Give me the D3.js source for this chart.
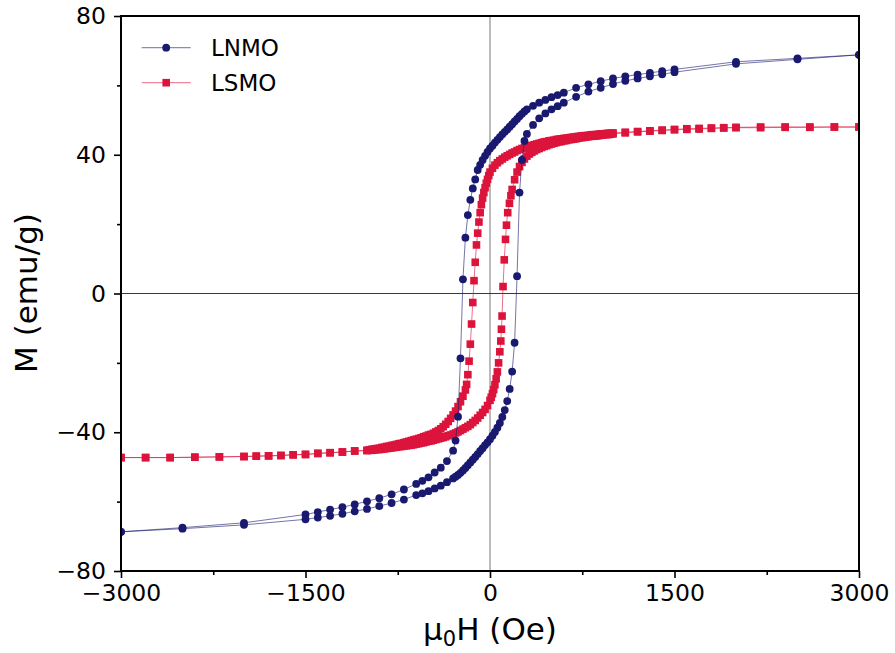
<!DOCTYPE html>
<html><head><meta charset="utf-8">
<script src="https://cdn.jsdelivr.net/npm/d3@7"></script>
<style>body{margin:0;background:#fff}svg{display:block}</style>
</head><body>
<svg id="chart" width="895" height="653"></svg>
<script>
// ---------- data ----------
const seriesNames = ["LNMO", "LSMO"];
const xMajorTicks = [-3000, -1500, 0, 1500, 3000];
const xMinorTicks = [-2250, -750, 750, 2250];
const yMajorTicks = [-80, -40, 0, 40, 80];
const yMinorTicks = [-60, -20, 20, 60];

// LNMO, field sweeping down (+3000 -> -3000)
const lnmoDownH = [3000,2500,2000,1500,1400,1300,1200,1100,1000,900,800,700,600,550,500,450,400,350,300,
  280,260,240,220,200,180,160,140,120,100,80,60,40,20,0,-20,-40,-60,-80,-100,
  -120,-140,-160,-180,-200,-220,-240,-260,-280,-300,-350,-400,-450,-500,-550,-600,
  -700,-800,-900,-1000,-1100,-1200,-1300,-1400,-1500,-2000,-2500,-3000];
const lnmoDownM = [68.8,67.8,66.8,64.6,64.1,63.6,63.1,62.6,62.0,61.2,60.3,59.3,57.9,57.2,56.6,55.8,55.0,54.1,53.1,
  52.5,51.8,51.1,50.3,49.6,48.8,48.1,47.3,46.6,45.9,45.1,44.3,43.5,42.6,41.8,40.8,39.7,38.5,37.1,35.6,
  32.9,30.3,27.0,22.6,16.1,4.1,-18.7,-35.5,-42.4,-45.3,-48.3,-50.2,-51.6,-53.0,-54.0,-54.9,
  -56.5,-57.9,-59.0,-59.9,-60.8,-61.6,-62.3,-63.0,-63.7,-66.1,-67.5,-68.7];
// LNMO, field sweeping up (-3000 -> +3000)
const lnmoUpH = [-3000,-2500,-2000,-1500,-1400,-1300,-1200,-1100,-1000,-900,-800,-700,-600,-550,-500,-450,-400,-350,-300,
  -280,-260,-240,-220,-200,-180,-160,-140,-120,-100,-80,-60,-40,-20,0,20,40,60,80,100,
  120,140,160,180,200,220,240,260,280,300,350,400,450,500,550,600,
  700,800,900,1000,1100,1200,1300,1400,1500,2000,2500,3000];
const lnmoUpM = [-68.7,-67.8,-66.7,-65.1,-64.6,-64.1,-63.5,-62.8,-62.1,-61.3,-60.4,-59.4,-58.1,-57.6,-57.0,-56.2,-55.4,-54.4,-53.3,
  -52.8,-52.3,-51.7,-51.0,-50.3,-49.5,-48.7,-47.9,-47.1,-46.3,-45.4,-44.6,-43.7,-42.9,-42.0,-41.0,-39.9,-38.7,-37.3,-35.6,
  -33.6,-31.0,-27.5,-22.5,-14.2,5.0,29.1,38.5,44.0,46.0,48.6,50.5,51.9,53.1,54.0,55.0,
  56.7,58.2,59.3,60.4,61.3,62.0,62.6,63.2,63.8,66.2,67.5,68.8];

// LSMO, field sweeping down
const lsmoDownH = [3000,2800,2600,2400,2200,2000,
  1900,1800,1700,1600,1500,1400,1300,1200,1100,1000,
  980,960,940,920,900,880,860,840,820,800,780,760,740,720,700,680,660,640,620,600,
  580,560,540,520,500,480,460,440,420,400,380,360,340,320,300,280,260,240,220,200,
  180,160,140,120,100,80,60,40,20,
  0,-10,-20,-30,-40,-50,-60,-70,-80,-90,-100,-110,-120,-130,-140,-150,-160,-170,-180,-190,-200,
  -220,-240,-260,-280,-300,-320,-340,-360,-380,-400,-420,-440,-460,-480,-500,-520,-540,-560,-580,-600,
  -620,-640,-660,-680,-700,-720,-740,-760,-780,-800,-820,-840,-860,-880,-900,-920,-940,-960,-980,-1000,
  -1100,-1200,-1300,-1400,-1500,-1600,-1700,-1800,-1900,-2000,
  -2200,-2400,-2600,-2800,-3000];
const lsmoDownM = [48.0,48.0,48.0,48.0,48.0,47.9,
  47.8,47.7,47.6,47.5,47.3,47.1,46.9,46.7,46.5,46.3,
  46.2,46.2,46.1,46.0,46.0,45.9,45.8,45.8,45.7,45.6,45.5,45.5,45.4,45.3,45.2,45.1,45.0,44.9,44.8,44.7,
  44.6,44.5,44.4,44.2,44.1,44.0,43.8,43.7,43.5,43.3,43.1,42.9,42.7,42.5,42.3,42.0,41.8,41.5,41.2,40.8,
  40.5,40.1,39.7,39.3,38.8,38.3,37.7,37.0,36.1,
  35.0,34.0,32.9,31.8,30.5,29.1,27.5,25.6,23.3,20.6,17.4,14.0,9.0,3.7,-2.6,-8.8,-14.6,-19.5,-23.4,-26.2,-27.8,
  -29.6,-31.2,-32.6,-33.9,-35.0,-36.0,-36.9,-37.7,-38.4,-39.0,-39.5,-39.9,-40.3,-40.6,-40.8,-41.1,-41.3,-41.6,-41.8,-42.0,
  -42.2,-42.4,-42.6,-42.8,-43.0,-43.2,-43.3,-43.5,-43.7,-43.8,-44.0,-44.1,-44.3,-44.4,-44.6,-44.7,-44.8,-44.9,-45.1,-45.2,
  -45.4,-45.7,-45.9,-46.1,-46.4,-46.5,-46.7,-46.8,-46.9,-47.0,
  -47.1,-47.2,-47.3,-47.3,-47.3];
// LSMO, field sweeping up
const lsmoUpH = [-3000,-2800,-2600,-2400,-2200,-2000,
  -1900,-1800,-1700,-1600,-1500,-1400,-1300,-1200,-1100,
  -1000,-980,-960,-940,-920,-900,-880,-860,-840,-820,-800,-780,-760,-740,-720,-700,-680,-660,-640,-620,-600,
  -580,-560,-540,-520,-500,-480,-460,-440,-420,-400,-380,-360,-340,-320,-300,-280,-260,-240,-220,-200,
  -180,-160,-140,-120,-100,-80,-60,-40,-20,0,
  10,20,30,40,50,60,70,80,
  88,93,98,106,116,126,134,144,158,
  170,180,
  200,220,240,260,280,300,320,340,360,380,400,420,440,460,480,500,520,540,560,580,600,
  620,640,660,680,700,720,740,760,780,800,820,840,860,880,900,920,940,960,980,1000,
  1100,1200,1300,1400,1500,1600,1700,1800,1900,2000,
  2200,2400,2600,2800,3000];
const lsmoUpM = [-47.3,-47.3,-47.3,-47.2,-47.1,-47.0,
  -46.9,-46.8,-46.7,-46.5,-46.4,-46.1,-45.9,-45.7,-45.4,
  -45.3,-45.2,-45.2,-45.1,-45.0,-45.0,-44.9,-44.8,-44.7,-44.6,-44.5,-44.4,-44.3,-44.2,-44.1,-44.0,-43.9,-43.8,-43.7,-43.6,-43.4,
  -43.3,-43.1,-43.0,-42.8,-42.6,-42.5,-42.3,-42.1,-41.9,-41.7,-41.5,-41.3,-41.0,-40.8,-40.5,-40.2,-39.9,-39.5,-39.1,-38.7,
  -38.3,-37.8,-37.2,-36.6,-35.9,-35.1,-34.3,-33.4,-32.3,-30.8,
  -29.9,-28.9,-27.7,-26.3,-24.6,-22.6,-20.0,-16.8,
  -13.7,-10.3,-6.5,2.0,9.7,15.6,19.7,23.3,26.0,
  28.2,30.0,
  32.8,35.0,36.6,37.8,38.8,39.6,40.2,40.7,41.1,41.5,41.8,42.1,42.4,42.6,42.9,43.1,43.3,43.5,43.7,43.8,44.0,
  44.1,44.3,44.4,44.5,44.6,44.8,44.9,45.0,45.1,45.2,45.3,45.4,45.4,45.5,45.6,45.7,45.8,45.8,45.9,46.0,
  46.3,46.6,46.8,47.0,47.2,47.3,47.4,47.6,47.7,47.8,
  47.8,47.9,47.9,48.0,48.0];

// ---------- drawing ----------
const FONT = "'DejaVu Sans', sans-serif";
const colors = { LNMO: "#191970", LSMO: "#DC143C" };
const R = 3.9, S = 7.6;

const svg = d3.select("#chart");
const x = d3.scaleLinear().domain([-3000, 3000]).range([121, 859]);
const y = d3.scaleLinear().domain([-80, 80]).range([571, 16]);

svg.append("defs").append("clipPath").attr("id", "plotclip")
  .append("rect").attr("x", x(-3000)).attr("y", y(80))
  .attr("width", x(3000) - x(-3000)).attr("height", y(-80) - y(80));

// zero reference lines
svg.append("line").attr("x1", x(0)).attr("x2", x(0)).attr("y1", y(80)).attr("y2", y(-80))
  .attr("stroke", "#777").attr("stroke-width", 1);
svg.append("line").attr("x1", x(-3000)).attr("x2", x(3000)).attr("y1", y(0)).attr("y2", y(0))
  .attr("stroke", "#222").attr("stroke-width", 0.9);

const plot = svg.append("g").attr("clip-path", "url(#plotclip)");

function drawSeries(Hs, Ms, color, shape, lineOpacity) {
  const pts = Hs.map((h, i) => [h, Ms[i]]);
  const g = plot.append("g");
  g.append("path").datum(pts)
    .attr("d", d3.line().x(d => x(d[0])).y(d => y(d[1])))
    .attr("fill", "none").attr("stroke", color).attr("stroke-width", 1)
    .attr("stroke-opacity", lineOpacity);
  if (shape === "circle") {
    g.selectAll("circle").data(pts).join("circle")
      .attr("cx", d => x(d[0])).attr("cy", d => y(d[1])).attr("r", R).attr("fill", color);
  } else {
    g.selectAll("rect").data(pts).join("rect")
      .attr("x", d => x(d[0]) - S / 2).attr("y", d => y(d[1]) - S / 2)
      .attr("width", S).attr("height", S).attr("fill", color);
  }
}

drawSeries(lsmoDownH.concat(lsmoUpH), lsmoDownM.concat(lsmoUpM), colors.LSMO, "square", 0.6);
drawSeries(lnmoDownH.concat(lnmoUpH), lnmoDownM.concat(lnmoUpM), colors.LNMO, "circle", 0.6);

// axes
function styleAxis(g, fs) {
  g.select(".domain").remove();
  g.selectAll(".tick line").attr("stroke", "#000").attr("stroke-width", 1.6);
  g.selectAll(".tick text").attr("font-family", FONT).attr("font-size", fs).attr("fill", "#000");
}
const fmt = d3.format("d");
svg.append("g").attr("transform", `translate(0,${y(-80)})`)
  .call(d3.axisBottom(x).tickValues(xMajorTicks).tickSize(7).tickPadding(6).tickFormat(fmt))
  .call(g => styleAxis(g, "23.5px"));
svg.append("g").attr("transform", `translate(0,${y(-80)})`)
  .call(d3.axisBottom(x).tickValues(xMinorTicks).tickSize(4).tickFormat(""))
  .call(g => styleAxis(g, "10px"));
svg.append("g").attr("transform", `translate(${x(-3000)},0)`)
  .call(d3.axisLeft(y).tickValues(yMajorTicks).tickSize(7).tickPadding(8).tickFormat(fmt))
  .call(g => styleAxis(g, "23.5px"));
svg.append("g").attr("transform", `translate(${x(-3000)},0)`)
  .call(d3.axisLeft(y).tickValues(yMinorTicks).tickSize(4).tickFormat(""))
  .call(g => styleAxis(g, "10px"));

// frame
svg.append("rect").attr("x", x(-3000)).attr("y", y(80))
  .attr("width", x(3000) - x(-3000)).attr("height", y(-80) - y(80))
  .attr("fill", "none").attr("stroke", "#000").attr("stroke-width", 2);

// axis labels
const xl = svg.append("text").attr("x", x(0)).attr("y", 640).attr("text-anchor", "middle")
  .attr("font-family", FONT).attr("font-size", "31px").attr("fill", "#000");
xl.append("tspan").text("\u03bc");
xl.append("tspan").attr("font-size", "21px").attr("dy", 6).text("0");
xl.append("tspan").attr("dy", -6).text("H (Oe)");

svg.append("text").attr("transform", "translate(37,293) rotate(-90)")
  .attr("text-anchor", "middle").attr("font-family", FONT).attr("font-size", "31px")
  .attr("fill", "#000").text("M (emu/g)");

// legend
const legend = svg.append("g");
seriesNames.forEach((name, i) => {
  const cy = 47.7 + i * 35;
  const c = colors[name];
  legend.append("line").attr("x1", 141.7).attr("x2", 190.7).attr("y1", cy).attr("y2", cy)
    .attr("stroke", c).attr("stroke-width", 1.2).attr("stroke-opacity", 0.5);
  if (name === "LNMO") {
    legend.append("circle").attr("cx", 166.2).attr("cy", cy).attr("r", R).attr("fill", c);
  } else {
    legend.append("rect").attr("x", 166.2 - S / 2).attr("y", cy - S / 2).attr("width", S).attr("height", S).attr("fill", c);
  }
  legend.append("text").attr("x", 211).attr("y", cy + 8.4)
    .attr("font-family", FONT).attr("font-size", "23px").attr("fill", "#000").text(name);
});
</script>
</body></html>
